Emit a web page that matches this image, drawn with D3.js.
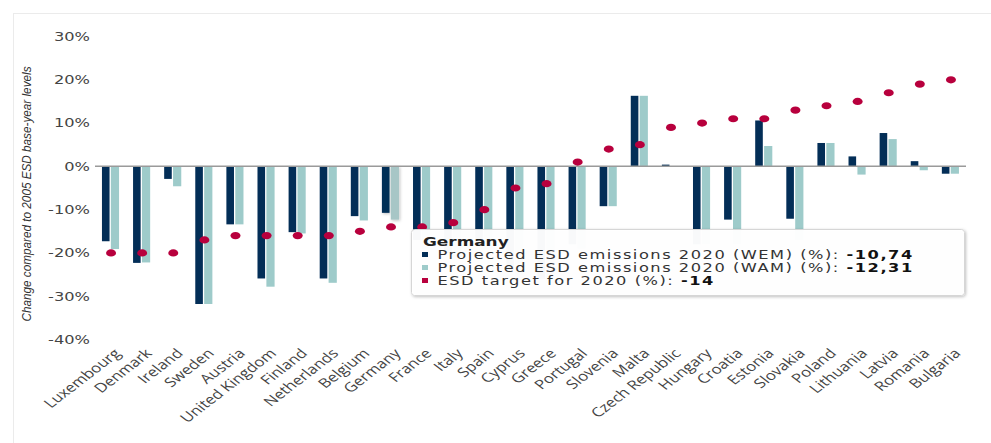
<!DOCTYPE html>
<html>
<head>
<meta charset="utf-8">
<script src="https://cdn.jsdelivr.net/npm/d3@7"></script>
<style>
  body { margin: 0; background: #fff; }
  svg { display: block; }
</style>
</head>
<body>
<div id="svg-container"></div>
<script>
// Data
var countries = ["Luxembourg", "Denmark", "Ireland", "Sweden", "Austria", "United Kingdom", "Finland",
  "Netherlands", "Belgium", "Germany", "France", "Italy", "Spain", "Cyprus", "Greece", "Portugal",
  "Slovenia", "Malta", "Czech Republic", "Hungary", "Croatia", "Estonia", "Slovakia", "Poland",
  "Lithuania", "Latvia", "Romania", "Bulgaria"];
var wem = [-17.3, -22.3, -2.9, -31.8, -13.4, -25.9, -15.2, -25.9, -11.5, -10.74, -17, -20, -17, -24,
  -26, -18, -9.2, 16.3, 0.4, -18, -12.3, 10.6, -12.1, 5.4, 2.3, 7.7, 1.2, -1.7];
var wam = [-19.1, -22.2, -4.6, -31.8, -13.4, -27.8, -15.5, -26.9, -12.5, -12.31, -19, -21, -19, -25,
  -27, -19, -9.2, 16.3, -0.1, -18, -18, 4.7, -17, 5.4, -1.9, 6.3, -0.9, -1.7];
var target = [-20, -20, -20, -17, -16, -16, -16, -16, -15, -14, -14, -13, -10, -5, -4, 1, 4, 5, 9,
  10, 11, 11, 13, 14, 15, 17, 19, 20];
var yTicks = [30, 20, 10, 0, -10, -20, -30, -40];
var seriesNames = ["Projected ESD emissions 2020 (WEM) (%)", "Projected ESD emissions 2020 (WAM) (%)",
  "ESD target for 2020 (%)"];
var hovered = "Germany";

var colWem = "#032e57", colWam = "#9ecbca", colTarget = "#b8003d";
var stretch = 1.3; // reference is stretched horizontally

var width = 991, height = 443;

var svg = d3.select("#svg-container")
  .append("svg")
  .attr("width", width)
  .attr("height", height);

var defs = svg.append("defs");
var f = defs.append("filter").attr("id", "shadow").attr("x", "-20%").attr("y", "-20%")
  .attr("width", "140%").attr("height", "140%");
f.append("feDropShadow").attr("dx", 1).attr("dy", 1).attr("stdDeviation", 1.5)
  .attr("flood-color", "#000").attr("flood-opacity", 0.25);

// frame lines
svg.append("line").attr("x1", 13).attr("x2", width).attr("y1", 13.5).attr("y2", 13.5)
  .attr("stroke", "#ebebeb");
svg.append("line").attr("x1", 13.5).attr("x2", 13.5).attr("y1", 13).attr("y2", height)
  .attr("stroke", "#ebebeb");

var x = d3.scaleBand().domain(countries).range([95, 966]).padding(0);
var y = d3.scaleLinear().domain([-40, 30]).range([339.5, 36.5]);

// y tick labels
svg.selectAll("text.ytick")
  .data(yTicks)
  .enter()
  .append("text")
  .attr("class", "ytick")
  .attr("transform", function(d) { return "translate(90," + y(d) + ") scale(" + stretch + ",1)"; })
  .attr("dy", "0.35em")
  .attr("text-anchor", "end")
  .style("font-family", "DejaVu Sans, Verdana, sans-serif")
  .style("font-size", "12.5px")
  .style("fill", "#444")
  .text(function(d) { return d + "%"; });

// y axis title
svg.append("text")
  .attr("transform", "translate(31,194) rotate(-90)")
  .attr("text-anchor", "middle")
  .attr("textLength", 255)
  .attr("lengthAdjust", "spacingAndGlyphs")
  .style("font-family", "Liberation Sans Narrow, Arial Narrow, sans-serif")
  .style("font-style", "italic")
  .style("font-size", "13px")
  .style("fill", "#333")
  .text("Change compared to 2005 ESD base-year levels");

var rows = countries.map(function(c, i) {
  return { name: c, wem: wem[i], wam: wam[i], target: target[i] };
});

// bars
var groups = svg.selectAll("g.country")
  .data(rows)
  .enter()
  .append("g")
  .attr("class", "country")
  .attr("transform", function(d) { return "translate(" + (x(d.name) + x.bandwidth() / 2) + ",0)"; })
  .attr("filter", function(d) { return d.name === hovered ? "url(#shadow)" : null; });

groups.append("rect")
  .attr("x", -8.6)
  .attr("width", 7.6)
  .attr("y", function(d) { return y(Math.max(0, d.wem)); })
  .attr("height", function(d) { return Math.abs(y(d.wem) - y(0)); })
  .style("fill", colWem);

groups.append("rect")
  .attr("x", 0.3)
  .attr("width", 8.2)
  .attr("y", function(d) { return y(Math.max(0, d.wam)); })
  .attr("height", function(d) { return Math.abs(y(d.wam) - y(0)); })
  .style("fill", function(d) { return d.name === hovered ? "#a7c6c6" : colWam; });

// zero line
svg.append("line")
  .attr("x1", 95).attr("x2", 966)
  .attr("y1", y(0)).attr("y2", y(0))
  .attr("stroke", "#9a9a9a")
  .attr("stroke-width", 1.5);

// target dots
svg.selectAll("ellipse.target")
  .data(rows)
  .enter()
  .append("ellipse")
  .attr("class", "target")
  .attr("cx", function(d) { return x(d.name) + x.bandwidth() / 2 + 0.5; })
  .attr("cy", function(d) { return y(d.target); })
  .attr("rx", 5)
  .attr("ry", 3.6)
  .style("fill", colTarget);

// x labels
svg.selectAll("text.xlab")
  .data(countries)
  .enter()
  .append("text")
  .attr("class", "xlab")
  .attr("transform", function(d) {
    return "translate(" + (x(d) + x.bandwidth() / 2 + 7) + ",351) scale(" + stretch + ",1) rotate(-45)";
  })
  .attr("text-anchor", "end")
  .attr("dy", "0.35em")
  .style("font-family", "Open Sans, sans-serif")
  .style("font-size", "13px")
  .style("fill", "#444")
  .text(function(d) { return d; });

// tooltip
var hi = countries.indexOf(hovered);
var fmt = function(v) { return d3.format(".2f")(v).replace(".", ",").replace("\u2212", "-"); };
var tip = svg.append("g");
tip.append("rect")
  .attr("x", 411.5).attr("y", 229.5)
  .attr("width", 553).attr("height", 66)
  .attr("rx", 3)
  .style("fill", "#fff")
  .style("fill-opacity", 0.97)
  .style("stroke", "#d6d6d6")
  .attr("filter", "url(#shadow)");

tip.append("text")
  .attr("transform", "translate(423,246) scale(" + stretch + ",1)")
  .style("font-family", "DejaVu Sans, Verdana, sans-serif")
  .style("font-size", "13px")
  .style("font-weight", "bold")
  .style("fill", "#222")
  .text(hovered);

var tipRows = [
  { name: seriesNames[0], value: fmt(wem[hi]), color: colWem },
  { name: seriesNames[1], value: fmt(wam[hi]), color: colWam },
  { name: seriesNames[2], value: String(target[hi]), color: colTarget }
];

tipRows.forEach(function(r, i) {
  var base = 259 + i * 13;
  tip.append("rect")
    .attr("x", 422).attr("y", base - 7)
    .attr("width", 6).attr("height", 5)
    .style("fill", r.color);
  var t = tip.append("text")
    .attr("transform", "translate(437.5," + base + ") scale(" + stretch + ",1)")
    .style("font-family", "DejaVu Sans, Verdana, sans-serif")
    .style("font-size", "12.5px")
    .style("letter-spacing", "1.17px")
    .style("fill", "#333");
  t.append("tspan").text(r.name + ": ");
  t.append("tspan").style("font-weight", "bold").style("fill", "#111").text(r.value);
});
</script>
</body>
</html>
